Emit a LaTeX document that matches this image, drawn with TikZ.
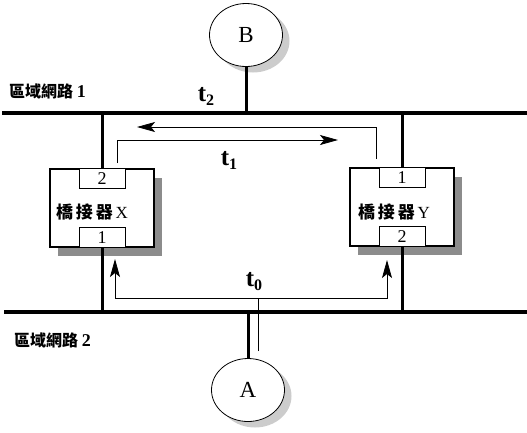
\documentclass[tikz,border=0pt]{standalone}
\usepackage{fontspec}
\setmainfont{Liberation Serif}
\newfontfamily\cjk{Noto Sans CJK TC}
\usetikzlibrary{shapes.geometric,shadows,arrows.meta}
\begin{document}
\begin{tikzpicture}[x=1pt,y=-1pt,
  lan/.style={line width=4.5pt},
  drop/.style={line width=3pt},
  bridge/.style={draw,line width=2.5pt,fill=white,minimum width=104pt,minimum height=78pt,inner sep=0pt,
    drop shadow={shadow xshift=8pt,shadow yshift=-9pt,fill=black!45,opacity=1}},
  port/.style={draw,line width=0.8pt,fill=white,minimum width=46pt,minimum height=20pt,inner sep=0pt,
    font=\fontsize{18}{18}\selectfont},
  host/.style={draw,ellipse,line width=0.8pt,fill=white,minimum width=73pt,minimum height=63pt,inner sep=0pt,
    font=\fontsize{23}{23}\selectfont,
    drop shadow={shadow xshift=7pt,shadow yshift=-6pt,fill=black!20,opacity=1}},
  tlabel/.style={inner sep=0pt,font=\bfseries\fontsize{25}{25}\selectfont},
  lanlabel/.style={anchor=west,inner sep=0pt,font=\cjk\bfseries\fontsize{16}{16}\selectfont},
  brtext/.style={inner sep=0pt,font=\fontsize{17}{17}\selectfont},
  flow/.style={line width=0.8pt},
  flowtip/.style={-{Stealth[length=18pt,width=10pt,inset=4pt]}}
]
\useasboundingbox (0,0) rectangle (527,432);
% LAN backbones
\coordinate (L1w) at (2,113);
\coordinate (L1e) at (527,113);
\coordinate (L2w) at (4,312);
\coordinate (L2e) at (527,312);
\draw[lan] (L1w) -- (L1e);
\draw[lan] (L2w) -- (L2e);
% hosts
\node[host] (B) at (246,35) {B};
\node[host] (A) at (248,390) {A};
\draw[drop] (B.south) -- (B.south |- L1w);
\draw[drop] (A.north) -- (A.north |- L2w);
% bridges
\node[bridge] (X) at (102,208) {};
\node[bridge] (Y) at (402,207) {};
\draw[drop] (X.north) -- (X.north |- L1w);
\draw[drop] (X.south) -- (X.south |- L2w);
\draw[drop] (Y.north) -- (Y.north |- L1w);
\draw[drop] (Y.south) -- (Y.south |- L2w);
\node[port,anchor=north] (X2) at (X.north) {2};
\node[port,anchor=south] (X1) at (X.south) {1};
\node[port,anchor=north] (Y1) at (Y.north) {1};
\node[port,anchor=south] (Y2) at (Y.south) {2};
\node[brtext] (Xt) at (92,212) {{\cjk\bfseries 橋\,接\,器}\,X};
\node[brtext] (Yt) at (394,212) {{\cjk\bfseries 橋\,接\,器}\,Y};
% t0 flow
\coordinate (t0s) at (258,351);
\coordinate (t0j) at (258,298);
\coordinate (t0l) at (115,259);
\coordinate (t0r) at (387,260);
\draw[flow] (t0s) -- (t0j);
\draw[flow,flowtip] (t0j) -| (t0l);
\draw[flow,flowtip] (t0j) -| (t0r);
% t1 flows
\coordinate (t1a) at (117,163);
\coordinate (t1b) at (338,140);
\coordinate (t1c) at (376,159);
\coordinate (t1d) at (137,127);
\draw[flow,flowtip] (t1a) |- (t1b);
\draw[flow,flowtip] (t1c) |- (t1d);
% labels
\node[tlabel] (lt0) at (254,282) {t\raisebox{-4pt}{\fontsize{16}{16}\selectfont 0}};
\node[tlabel] (lt1) at (229,160) {t\raisebox{-4pt}{\fontsize{16}{16}\selectfont 1}};
\node[tlabel] (lt2) at (206,96) {t\raisebox{-4pt}{\fontsize{16}{16}\selectfont 2}};
\node[lanlabel] (lan1) at (9,91) {區域網路\ {\rmfamily\bfseries\fontsize{18}{18}\selectfont 1}};
\node[lanlabel] (lan2) at (14,340) {區域網路\ {\rmfamily\bfseries\fontsize{18}{18}\selectfont 2}};
\end{tikzpicture}
\end{document}
